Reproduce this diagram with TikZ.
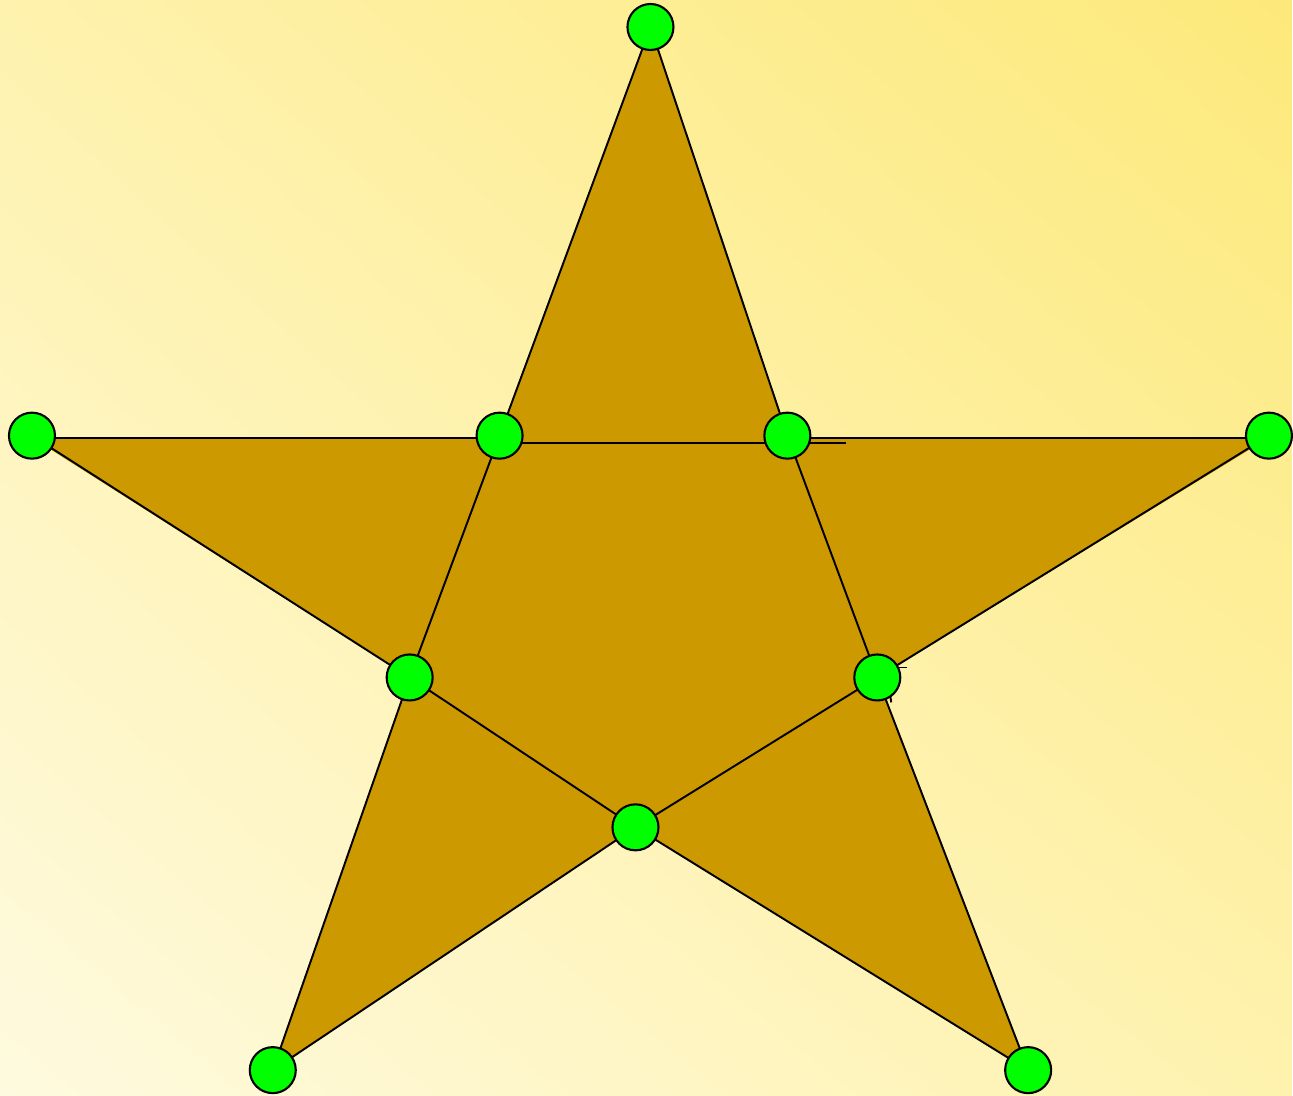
\documentclass[tikz,border=0pt]{standalone}
\usetikzlibrary{shadings}
\definecolor{bgpale}{HTML}{FEFADF}
\definecolor{bgmid}{HTML}{FEF2AE}
\definecolor{bgdeep}{HTML}{FDE97A}
\definecolor{starfill}{HTML}{CC9900}
\definecolor{dotgreen}{HTML}{00FF00}
\pgfdeclarelayer{back}
\pgfdeclarelayer{edges}
\pgfsetlayers{back,edges,main}
\tikzset{
  dot/.style={circle, draw=black, line width=0.6pt, fill=dotgreen, minimum size=0.46cm, inner sep=0pt},
  edge/.style={draw=black, line width=0.55pt}
}
\begin{document}
\begin{tikzpicture}[x=0.01cm, y=-0.01cm]
  % points of the star
  \node[dot] (T)  at (651,27)   {};
  \node[dot] (L)  at (32,436)   {};
  \node[dot] (R)  at (1270,436) {};
  \node[dot] (UL) at (500,436)  {};
  \node[dot] (UR) at (788,436)  {};
  \node[dot] (LL) at (410,678)  {};
  \node[dot] (LR) at (878,678)  {};
  \node[dot] (B)  at (636,828)  {};
  \node[dot] (BL) at (273,1071) {};
  \node[dot] (BR) at (1029,1071) {};
  \coordinate (ULb) at (500,443);
  \coordinate (URx) at (847,443);
  \coordinate (LRa) at (891,668);
  \coordinate (LRb) at (908,668);
  \coordinate (LRc) at (890,690);
  \coordinate (LRd) at (892,703);
  \begin{pgfonlayer}{back}
    \shade[lower left=bgpale, upper left=bgmid, upper right=bgdeep, lower right=bgmid]
      (0,0) rectangle (1293,1096);
    % star body
    \fill[starfill] (651,27) -- (788,438) -- (1270,438) -- (878,678) -- (1029,1071)
      -- (636,828) -- (273,1071) -- (410,678) -- (32,438) -- (500,438) -- cycle;
  \end{pgfonlayer}
  \useasboundingbox (0,0) rectangle (1293,1096);
  % edges
  \begin{pgfonlayer}{edges}
    \draw[edge] (T.center) -- (UL.center) -- (LL.center) -- (BL.center);
    \draw[edge] (T.center) -- (UR.center) -- (LR.center) -- (BR.center);
    \draw[edge] ([yshift=-0.57pt]L.center) -- ([yshift=-0.57pt]UL.center);
    \draw[edge] (ULb) -- (URx);
    \draw[edge] ([yshift=-0.57pt]UR.center) -- ([yshift=-0.57pt]R.center);
    \draw[edge] (L.center) -- (LL.center) -- (B.center) -- (BR.center);
    \draw[edge] (R.center) -- (LR.center) -- (B.center) -- (BL.center);
    \draw[edge] (LRa) -- (LRb);
    \draw[edge] (LRc) -- (LRd);
  \end{pgfonlayer}
\end{tikzpicture}
\end{document}
